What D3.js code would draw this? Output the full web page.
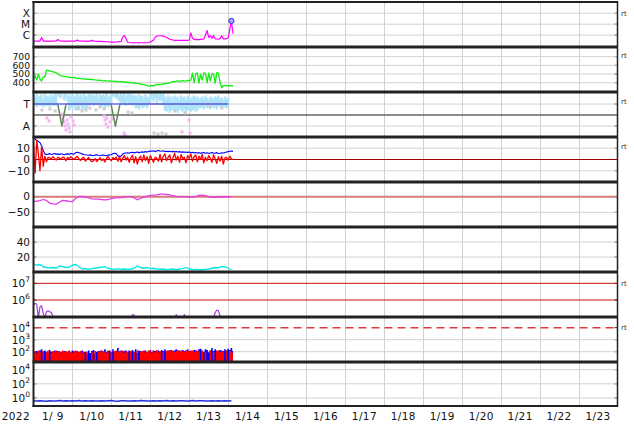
<!DOCTYPE html>
<html><head><meta charset="utf-8">
<script src="https://cdn.jsdelivr.net/npm/d3@7"></script>
<style>
body{margin:0;background:#fff}
svg{display:block}
text{font-family:"DejaVu Sans",sans-serif;fill:#111}
</style></head>
<body><svg id="c" width="634" height="424"></svg>
<script>
// ---------------- DATA ----------------
// X-ray flux, log10(W/m2), hourly from 2022-01-09 00:00
const xrayLog = [-6.55,-6.56,-6.54,-6.55,-6.53,-6.22,-6.55,-6.56,-6.55,-6.57,-6.55,-6.56,-6.56,-6.55,-6.54,-6.40,-6.52,-6.55,-6.56,-6.55,-6.57,-6.56,-6.55,-6.56,-6.55,-6.54,-6.55,-6.46,-6.53,-6.55,-6.56,-6.56,-6.55,-6.57,-6.56,-6.55,-6.48,-6.54,-6.56,-6.57,-6.58,-6.57,-6.58,-6.6,-6.6,-6.61,-6.62,-6.63,-6.64,-6.63,-6.64,-6.63,-6.62,-6.6,-6.58,-6.2,-6.04,-6.3,-6.65,-6.68,-6.7,-6.7,-6.71,-6.7,-6.7,-6.71,-6.7,-6.7,-6.69,-6.7,-6.7,-6.68,-6.62,-6.55,-6.45,-6.2,-6.1,-6.06,-6.06,-6.08,-6.1,-6.15,-6.2,-6.3,-6.38,-6.42,-6.45,-6.48,-6.49,-6.49,-6.49,-6.48,-6.49,-6.47,-6.48,-6.49,-6.45,-5.79,-6.3,-6.4,-6.41,-6.4,-6.42,-6.4,-6.38,-6.35,-6.0,-5.58,-6.2,-6.06,-6.3,-6.04,-6.34,-6.36,-6.38,-6.3,-6.06,-6.35,-6.34,-6.33,-6.25,-5.5,-4.7,-5.88];
const flareHour = [122];
const flareLog = [-4.7];
const xrayTicks = [-6,-5,-4];
const xrayTickLabels = ["C","M","X"];

// Solar wind speed km/s, hourly
const speed = [450,480,430,500,440,420,470,465,545,540,535,530,525,522,515,500,490,480,475,470,472,468,462,460,458,462,455,450,452,448,445,447,442,440,438,441,436,435,432,430,428,430,425,422,425,420,418,420,416,415,418,412,414,410,412,408,410,405,408,402,400,398,395,397,392,390,385,382,378,372,365,360,362,370,365,372,380,375,385,378,390,385,395,392,400,405,415,410,420,418,415,420,425,418,422,428,425,430,510,400,505,510,395,500,430,515,505,400,510,420,500,505,395,515,510,400,340,365,370,362,368,360,365,362];
const speedTicks = [400,500,600,700];

// Regime panel (T / A)
const regimeTicks = [1,-1];
const regimeTickLabels = ["T","A"];
const regimeBlueHours = [0,120];
const regimeBlueVals = [1,1];
const regimeGreenHours = [0,15,17.5,20,47.8,50.5,53.3,120];
const regimeGreenVals = [1,1,-1,1,1,-1,1,1];
const lbTop = [1.8,1.6,1.9,1.5,1.7,1.8,1.4,1.9,1.6,1.7,1.5,1.8,1.6,1.9,1.7, 1.9,1.8,1.9,1.7,1.85,1.9,1.6, 1.8,1.6,1.9,1.5,1.7,2.0,1.6,1.8,1.5,1.9,1.7,1.6,1.8, 1.9,1.7,1.8,1.6,1.9,1.5,1.8, 1.7,1.8,1.6,1.9,1.5,1.7,1.8, 1.9,1.8,1.9,1.85,1.7, 1.9,1.7,2.0,1.6,1.8,1.9,1.7,1.8,1.6, 1.7,1.5,1.8,1.6,1.7,1.4,1.8,1.6,1.5, 2.0,1.9,1.8,2.0,1.9,1.7,2.0,1.8,1.9, 1.6,1.4,1.7,1.5,1.6,1.3,1.7,1.5,1.6,1.4,1.7,1.5,1.6,1.3,1.7,1.5,1.4,1.6,1.7,1.5,1.6,1.4, 1.5,1.6,1.4,1.7,1.5,1.3,1.6,1.5,1.4,1.6,1.5,1.7,1.4,1.5,1.3,1.6,1.4,1.5];
const lbBot = [0.9,1.1,0.8,1.0,0.9,1.2,0.8,1.1,0.9,1.0,0.8,1.2,0.9,1.0,0.9, 1.8,1.7,1.6,1.9,1.4,1.7,1.3, 0.5,0.8,0.6,0.9,0.5,0.7,0.6,0.9,0.5,0.8,0.6,0.7,0.9, 1.0,1.2,0.9,1.1,1.0,1.2,0.9, 0.8,1.0,0.7,0.9,0.8,1.0,1.2, 1.8,1.7,1.6,1.5,1.3, 1.0,1.2,1.1,0.9,1.3,1.0,1.1,0.9,1.2, 0.7,0.8,0.6,0.9,0.7,0.8,0.9,0.7,1.0, 1.4,1.5,1.3,1.6,1.2,1.5,1.3,1.4,1.1, 0.5,0.4,0.6,0.3,0.5,0.6,0.4,0.5,0.3,0.6,0.5,0.4,0.6,0.3,0.5,0.6,0.4,0.5,0.6,0.4,0.5,0.7, 0.7,0.8,0.6,0.9,0.7,0.8,0.6,0.9,0.7,0.8,0.6,0.9,0.8,0.7,0.9,0.8,0.7,0.9];
const grayHours = [5.2,10.2,13.3,27.4,29.9,32.4,34.8,38.5,41,43.5,58.3,60.7,71.8,74.3,76.8,79.2,81.7,87.2,93.4,107,108.8,116.2];
const grayVals = [0.46,0.55,0.37,0.55,0.37,0.46,0.64,0.46,0.73,0.55,0.28,0.19,1.1,-1.64,-1.73,-1.64,-1.73,0.37,0.19,0.91,0.82,0.64];
const pinkHours = [8.3,9.6,17.6,18.2,18.8,19.4,20,20.7,21.3,21.9,22.5,23.1,24.4,25,43.5,44.1,44.7,45.3,45.9,47.2,48.4,55.8,56.4,91.5,95.9,96.5];
const pinkVals = [-0.27,-0.54,0.09,-0.27,-0.63,-1.0,-1.36,-0.45,-0.82,-1.18,-1.54,-0.18,-0.54,-0.91,-0.09,-0.45,-0.82,-0.27,-1.09,-0.63,-0.36,-1.64,-1.82,-1.54,-0.45,-1.64];

// IMF nT, hourly
const imfBt = [19,18,17,16,15,12,8,5,4.5, 4.8,5.2,4.5,4.9,5.3,4.6,5.0,4.4,5.1,4.7,4.3,4.8,5.0,4.6,5.4,5.0,4.8, 6.2,6.5,6.0,5.5,5.0, 4.5,4.2,4.0,3.8,4.1,3.7,3.5,3.9,4.2,3.6,3.4,3.8,4.0,3.5,3.3,3.9,4.1,4.5,5.2,5.6, 5.3,3.2,2.8,3.0,4.8, 5.5,5.8,6.0,5.6,6.2,6.4,5.9,6.3,6.6,6.1,6.5,6.8,6.4,7.0,6.7,7.2,7.5, 7.4,7.8,7.2,7.6,8.0,7.5,7.3,7.7,7.1,7.4,7.0,7.3,6.9,7.2,6.8,7.1,6.6,7.0,6.5,6.8,6.4,6.7,6.3,6.6, 6.0,6.4,5.8,6.2,5.7,6.1,5.5,5.9,6.3,5.6,6.0,5.4,5.8,6.2,5.5,5.7,6.1,5.3,5.6,6.0,5.8,6.2,6.6,7.0,7.4,7.6,7.2];
const imfBz = [15,-12,17,5,-10,12,-6,3,-2, 2.0,1.5,0.5,2.5,1.0,-0.5,2.0,1.2,0.3,2.2,1.5,-1.0,1.8,0.8,2.4,1.0,0.2, 1.5,2.8,0.5,-0.8,1.2,2.0,-1.5,0.3,1.8,-0.5,-2.0,-1.2,0.8,-1.8,-0.3,1.5,-1.0,0.5,-2.2,1.2,2.5,0.0,-1.0,1.8,0.5, 2.0,-1.5,3.0,-2.0,1.0,3.5,-0.5,2.0,-2.5,1.5, 3.8,-3.0,2.5,-4.0,1.0,3.0,-2.0,4.0,-1.0,2.5,-3.5,3.5,0.5,-2.5,2.0,1.0,-1.5, 4.5,-2.0,3.0,5.0,-1.0,2.0,4.0,-3.0,1.5,5.5,-0.5,3.0,-2.5,4.5,0.5,2.0,-3.0,3.5,1.0,5.0,-1.5,2.5,4.0, -2.0,3.0,0.0,4.5,-3.0,2.0,-1.0,3.5,1.0,-2.5,4.0,0.5,-3.5,2.5,-1.5,3.0,-4.0,1.5,2.0,-0.5,3.0,0.5,0.0];
const imfTicks = [10,0,-10];

// Dst nT, every 2 hours
const dst = [-16,-14,-12.5,-9,-12,-21,-23,-24,-17,-12,-13,-15,-16,-5,0,1,-2,-3,-7,-8,-8,-9,-10,-9,-6,-4,-4,-3,-1,0,0,-3,-10,-5,-2,2,4,5,6,8,8,7,6,3,1,0,0,0,-2,-2,0,4,5,3,0,-2,-2,-1,-1,0,-1,0];
const dstTicks = [0,-50];

// cyan series, every 2 hours
const cyanVals = [11,9,10,7,6,5.5,6,5,8,7,6,6.5,9,10,7,4,4.5,3.5,4.5,5,6,6.5,7,5,4,3.5,4.5,3.5,4,3.5,4,5,8,6,5,6,4.5,5,4,3.5,4,3,3.5,4,3,4,4.5,6,4,3,3.5,3,3,3.5,4,5,6,5.5,7.5,7,5,3];
const cyanTicks = [40,20];

// electron flux log10, hourly
const electronLog = [5.7,5.8,5.75,4.9,5.6,5.65,5.2,4.9,5.3,5.35,5.3,5.25,5.0,
 4.9,4.9,4.9,4.9,4.9,4.9,4.9,4.9,4.9,4.9,4.9,4.9,4.9,4.9,4.9,4.9,4.9,4.9,4.9,4.9,4.9,4.9,4.9,4.9,4.9,4.9,4.9,
 5.02,4.9,4.9,4.9,4.9,4.9,4.9,4.9,4.9,5.03,
 4.9,4.9,4.9,4.9,4.9,4.9,4.9,4.9,4.9,4.9,4.9,5.12,5.1,
 4.9,4.9,4.9,4.9,4.9,4.9,4.9,4.9,4.9,4.9,4.9,4.9,4.9,4.9,4.9,4.9,4.9,4.9,4.9,4.9,4.9,4.9,4.9,4.9,4.9,
 5.12,4.9,4.9,4.9,4.9,5.12,
 4.9,4.9,4.9,4.9,4.9,4.9,4.9,4.9,4.9,4.9,4.9,4.9,4.9,4.9,4.9,4.9,4.9,4.9,
 5.25,5.4,5.35,5.05,4.9,4.9,4.9,4.9,4.9,4.9,4.9,4.9];
const electronTicks = [7,6];

// proton flux log10, hourly
const protonRedLog = [1.95,2.05,1.9,2.1,2.0,1.0,2.05,1.0,1.95,2.1, 1.0,1.9,2.05,2.0,2.1,1.95,2.05,1.9,2.1,2.0, 2.05,1.95,2.1,2.0,1.9,2.05,2.1,1.95,2.0,2.05,1.9,2.0, 1.0,2.0,1.0,1.0,1.95,1.0,2.05,1.0, 2.0,2.1,1.95,2.05,2.0,1.9,2.1, 1.0,2.0,1.0,2.05, 2.1,1.95,2.05,2.0,2.1,1.9,2.05,2.0, 1.0,2.05,1.0,1.95,1.0,2.1,1.0,2.0, 2.05,2.1,1.95,2.0,2.1,2.05,1.9,2.1,2.0,2.15,1.95,2.05, 1.0,2.0,1.0, 2.1,2.05,2.15,2.0,2.1,1.95,2.05,2.15,2.0,2.1,2.05,1.95,2.1,2.15,2.0,2.05,2.1,1.95,2.15,2.0,2.05, 1.0,2.05,1.0,1.95,1.0,1.0,2.1,1.0,2.0,1.0,2.05, 2.1,1.95,2.05,2.0, 1.0,2.1,1.0,2.05, 2.0,1.9];
const protonBlueLog = [2.0,1.9,2.05,1.95,2.1,2.2,1.95,2.1,2.0,1.9, 2.15,2.0,1.95,2.1,2.0,2.05,1.9,2.0,1.95,2.05, 1.9,2.0,2.05,1.95,2.1,2.0,1.95,2.05,1.9,2.0,2.1,1.95, 2.0,1.8,2.1,1.9,2.05,2.15,1.85,2.0, 2.05,2.0,2.1,1.95,2.2,2.0,2.05, 2.1,1.95,2.2,2.0, 2.05,2.3,2.0,2.1,1.95,2.05,2.1,2.0, 2.1,1.95,2.15,2.0,2.2,1.9,2.1,2.05, 2.0,2.05,2.1,1.95,2.05,2.15,2.0,2.1,2.05,2.0,2.1,1.95, 2.15,2.05,2.2, 2.0,2.1,2.05,2.15,2.0,2.1,2.2,2.05,2.1,2.0,2.15,2.05,2.1,2.2,2.05,2.1,2.0,2.15,2.1,2.05,2.2, 2.25,2.1,2.0,2.2,2.15,1.95,2.1,2.3,2.05,2.2,2.1, 2.0,2.15,2.1,2.05, 2.2,2.1,2.25,2.15, 2.3,2.05];
const protonTicks = [4,3,2];
const protonThreshold = [4];

// bottom panel log10, every 2 hours
const bottomLog = [-0.40,-0.44,-0.38,-0.42,-0.45,-0.39,-0.41,-0.43,-0.37,-0.42,-0.40,-0.44,-0.39,-0.41,-0.36,-0.43,-0.40,-0.42,-0.38,-0.44,-0.41,-0.39,-0.43,-0.40,-0.37,-0.42,-0.45,-0.40,-0.38,-0.41,-0.43,-0.39,-0.42,-0.36,-0.40,-0.44,-0.41,-0.38,-0.42,-0.40,-0.43,-0.37,-0.41,-0.39,-0.44,-0.40,-0.38,-0.42,-0.41,-0.36,-0.43,-0.40,-0.39,-0.42,-0.44,-0.38,-0.41,-0.40,-0.43,-0.39,-0.41,-0.40];
const bottomTicks = [4,2,0];

const yearLabel = "2022";
const rtLabel = "rt";

// ---------------- CHART ----------------
const svg = d3.select("#c");
const t0 = new Date(2022,0,9);
const tEnd = new Date(2022,0,24);
const L = 33.5, R = 617.5;
const x = d3.scaleTime().domain([t0, tEnd]).range([L, R]);
const at = h => d3.timeMinute.offset(t0, Math.round(h*60));

const panelDefs = [
  {top:2, bot:47, dom:[-7.09,-2.97]},
  {top:47, bot:92, dom:[293,811]},
  {top:92, bot:137, dom:[-2,2.1]},
  {top:137, bot:182, dom:[-20,20]},
  {top:182, bot:227, dom:[-97,47]},
  {top:227, bot:272, dom:[0,60]},
  {top:272, bot:317, dom:[4.98,7.68]},
  {top:317, bot:362, dom:[1.14,4.89]},
  {top:362, bot:406, dom:[-1.13,5.08]},
];
const defs = svg.append("defs");
const P = panelDefs.map((p,i) => {
  const y = d3.scaleLinear().domain(p.dom).range([p.bot, p.top]);
  defs.append("clipPath").attr("id","cp"+i).append("rect")
    .attr("x",L).attr("y",p.top).attr("width",R-L).attr("height",p.bot-p.top);
  const g = svg.append("g");
  const gc = svg.append("g").attr("clip-path",`url(#cp${i})`);
  return {y, g, gc, top:p.top, bot:p.bot};
});

// vertical day gridlines
const days = d3.timeDay.range(d3.timeDay.offset(t0,1), tEnd);
svg.insert("g",":first-child").selectAll("line").data(days).join("line")
  .attr("x1",d=>Math.round(x(d))+0.5).attr("x2",d=>Math.round(x(d))+0.5)
  .attr("y1",2).attr("y2",406).attr("stroke","#d2d2d2").attr("stroke-width",1);

function hline(p, v, color, w, dash){
  const yy = p.y(v);
  p.gc.append("line").attr("x1",L).attr("x2",R).attr("y1",yy).attr("y2",yy)
    .attr("stroke",color).attr("stroke-width",w).attr("stroke-dasharray",dash||null);
}
function tickMarks(p, vals){
  vals.forEach(v=>{
    const yy=p.y(v);
    p.g.append("line").attr("x1",L).attr("x2",L+3).attr("y1",yy).attr("y2",yy).attr("stroke","#222");
    p.g.append("line").attr("x1",R-3).attr("x2",R).attr("y1",yy).attr("y2",yy).attr("stroke","#222");
  });
}
function labels(p, vals, texts, fs){
  vals.forEach((v,i)=>{
    p.g.append("text").attr("x",30).attr("y",p.y(v)).attr("dy","0.36em")
      .attr("text-anchor","end").attr("font-size",fs||10.5).text(texts[i]);
  });
}
function expLabels(p, vals){
  vals.forEach(v=>{
    const t = p.g.append("text").attr("x",30).attr("y",p.y(v)+4)
      .attr("text-anchor","end").attr("font-size",10.5);
    t.append("tspan").text("10");
    t.append("tspan").attr("dy",-5).attr("font-size",7.5).text(String(v));
  });
}
function series(arr, stepH){ return arr.map((v,i)=>[x(d3.timeHour.offset(t0,i*stepH)), v]); }
function drawLine(p, pts, color, w, curve){
  p.gc.append("path").datum(pts)
    .attr("d", d3.line().x(d=>d[0]).y(d=>p.y(d[1])).curve(curve||d3.curveLinear))
    .attr("fill","none").attr("stroke",color).attr("stroke-width",w).attr("stroke-linejoin","round");
}
function rt(p, v){
  svg.append("text").attr("x",621).attr("y",p.y(v)+2.5).attr("font-size",7).style("fill","#333").text(rtLabel);
}

// Panel 1: X-ray
{
  const p=P[0];
  xrayTicks.forEach(v=>hline(p,v,"#d2d2d2",1));
  drawLine(p, series(xrayLog,1), "#ff00ff", 1.2);
  flareHour.forEach((h,i)=>{
    p.gc.append("circle").attr("cx",x(at(h))).attr("cy",p.y(flareLog[i])).attr("r",2.6)
      .attr("fill","#a8a8ff").attr("stroke","#2a2aff").attr("stroke-width",1);
  });
  labels(p, xrayTicks, xrayTickLabels); tickMarks(p,xrayTicks); rt(p, -4);
}
// Panel 2: speed
{
  const p=P[1];
  speedTicks.forEach(v=>hline(p,v,"#d2d2d2",1));
  drawLine(p, series(speed,1), "#11ee11", 1.3);
  labels(p, speedTicks, speedTicks.map(String), 9.2); tickMarks(p,speedTicks); rt(p, 710);
}
// Panel 3: regime
{
  const p=P[2];
  regimeTicks.forEach(v=>hline(p,v,"#d2d2d2",1));
  hline(p,0,"#666",1.5);
  const lb = lbTop.map((t,i)=>({h:i, t, b:lbBot[i]}));
  p.gc.selectAll("rect.lb").data(lb).join("rect").attr("class","lb")
    .attr("x",d=>x(at(d.h))-1.2).attr("width",2.4)
    .attr("y",d=>p.y(d.t)-1).attr("height",d=>p.y(d.b)-p.y(d.t)+2)
    .attr("fill","#aee4fb");
  p.gc.selectAll("rect.gr").data(grayHours).join("rect").attr("class","gr")
    .attr("x",h=>x(at(h))-1.5).attr("y",(h,i)=>p.y(grayVals[i])-1.5).attr("width",3).attr("height",3)
    .attr("fill","#cccccc");
  p.gc.selectAll("rect.pk").data(pinkHours).join("rect").attr("class","pk")
    .attr("x",h=>x(at(h))-1.5).attr("y",(h,i)=>p.y(pinkVals[i])-1.5).attr("width",3).attr("height",3)
    .attr("fill","#f4b4f4");
  drawLine(p, regimeGreenHours.map((h,i)=>[x(at(h)), regimeGreenVals[i]]), "#5d8a55", 1.5);
  drawLine(p, regimeBlueHours.map((h,i)=>[x(at(h)), regimeBlueVals[i]]), "#6f6fff", 1.5);
  labels(p, regimeTicks, regimeTickLabels); tickMarks(p,regimeTicks); rt(p, 1.2);
}
// Panel 4: IMF
{
  const p=P[3];
  [10,-10].forEach(v=>hline(p,v,"#d2d2d2",1));
  hline(p,0,"#a00000",1);
  drawLine(p, series(imfBt,1), "#0000ff", 1.1);
  drawLine(p, series(imfBz,1), "#ff0000", 1.3);
  labels(p, imfTicks, imfTicks.map(v=>v<0?"\u2212"+Math.abs(v):String(v))); tickMarks(p,imfTicks); rt(p, 12);
}
// Panel 5: Dst
{
  const p=P[4];
  hline(p,-50,"#d2d2d2",1);
  hline(p,0,"#d87b7b",2);
  drawLine(p, series(dst,2), "#e23ce2", 1.3);
  labels(p, dstTicks, dstTicks.map(v=>v<0?"\u2212"+Math.abs(v):String(v))); tickMarks(p,dstTicks);
}
// Panel 6: cyan
{
  const p=P[5];
  cyanTicks.forEach(v=>hline(p,v,"#d2d2d2",1));
  drawLine(p, series(cyanVals,2), "#00e6e6", 1.3);
  labels(p, cyanTicks, cyanTicks.map(String)); tickMarks(p,cyanTicks);
}
// Panel 7: electrons
{
  const p=P[6];
  electronTicks.forEach(v=>hline(p,v,"#cc1111",1));
  drawLine(p, series(electronLog,1), "#a23ad6", 1.2);
  expLabels(p, electronTicks); tickMarks(p,electronTicks); rt(p, 7);
}
// Panel 8: protons
{
  const p=P[7];
  [3,2].forEach(v=>hline(p,v,"#d2d2d2",1));
  const area = d3.area().x(d=>d[0]).y0(p.bot+5).y1(d=>p.y(d[1])).curve(d3.curveStep);
  p.gc.append("path").datum(series(protonBlueLog,1)).attr("d",area).attr("fill","#0000ff");
  p.gc.append("path").datum(series(protonRedLog,1)).attr("d",area).attr("fill","#ff0000");
  protonThreshold.forEach(v=>hline(p,v,"#e03a3a",1.5,"8,5"));
  expLabels(p, protonTicks); tickMarks(p,protonTicks); rt(p, 4);
}
// Panel 9
{
  const p=P[8];
  bottomTicks.forEach(v=>hline(p,v,"#d2d2d2",1));
  drawLine(p, series(bottomLog,2), "#2233dd", 1.5);
  expLabels(p, bottomTicks); tickMarks(p,bottomTicks);
}

// separators and frame
const sep = svg.append("g");
panelDefs.slice(1).forEach(p=>{
  sep.append("line").attr("x1",L-1).attr("x2",R).attr("y1",p.top).attr("y2",p.top)
    .attr("stroke","#222").attr("stroke-width",3);
});
sep.append("line").attr("x1",L-1).attr("x2",R).attr("y1",2).attr("y2",2).attr("stroke","#222").attr("stroke-width",2);
sep.append("line").attr("x1",L-1).attr("x2",R+0.5).attr("y1",406).attr("y2",406).attr("stroke","#222").attr("stroke-width",2);
sep.append("line").attr("x1",L).attr("x2",L).attr("y1",1).attr("y2",407).attr("stroke","#222").attr("stroke-width",2);
sep.append("line").attr("x1",R).attr("x2",R).attr("y1",1).attr("y2",407).attr("stroke","#222").attr("stroke-width",1.5);

// x-axis labels
const fmt = d3.timeFormat("%-m/%e");
const dayStarts = d3.timeDay.range(t0, tEnd);
svg.append("g").selectAll("text").data(dayStarts).join("text")
  .attr("x",d=>x(d3.timeHour.offset(d,12))).attr("y",420).attr("text-anchor","middle")
  .attr("font-size",10.5).attr("letter-spacing",0.4).style("white-space","pre").text(d=>fmt(d));
svg.append("text").attr("x",30).attr("y",420).attr("text-anchor","end").attr("font-size",10.5)
  .attr("letter-spacing",0.4).text(yearLabel);
</script></body></html>
